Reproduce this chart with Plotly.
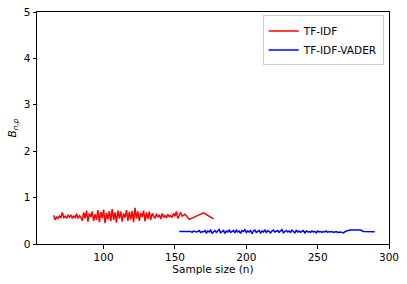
import plotly.graph_objects as go

# TF-IDF series
tfidf_x = list(range(65, 156)) + [157, 160, 170, 177]
tfidf_y = [
    0.62, 0.52, 0.58, 0.55, 0.60, 0.56, 0.68, 0.57, 0.60, 0.55,
    0.62, 0.58, 0.63, 0.56, 0.60, 0.57, 0.65, 0.55, 0.61, 0.58,
    0.50, 0.68, 0.55, 0.72, 0.48, 0.66, 0.58, 0.70, 0.50, 0.64,
    0.52, 0.73, 0.47, 0.69, 0.56, 0.74, 0.45, 0.67, 0.53, 0.71,
    0.49, 0.75, 0.52, 0.68, 0.46, 0.72, 0.55, 0.70, 0.48, 0.66,
    0.57, 0.73, 0.50, 0.69, 0.53, 0.71, 0.47, 0.78, 0.55, 0.70,
    0.50, 0.67, 0.58, 0.72, 0.49, 0.68, 0.54, 0.70, 0.52, 0.66,
    0.60, 0.55, 0.65, 0.58, 0.63, 0.54, 0.66, 0.57, 0.62, 0.56,
    0.64, 0.59, 0.61, 0.57, 0.66, 0.60, 0.70, 0.55, 0.62, 0.68,
    0.60,
    0.64, 0.53, 0.67, 0.54,
]

# TF-IDF-VADER series
vader_x = list(range(153, 271)) + [273, 280, 282, 290]
vader_y = [
    0.27, 0.27, 0.26, 0.27, 0.27, 0.27, 0.26, 0.27, 0.27, 0.25,
    0.28, 0.27, 0.26, 0.27, 0.29, 0.25, 0.27, 0.26,
    0.29, 0.24, 0.28, 0.26, 0.30, 0.23, 0.27, 0.29, 0.25, 0.28,
    0.31, 0.24, 0.27, 0.29, 0.23, 0.28, 0.26, 0.30, 0.25, 0.27,
    0.29, 0.24, 0.30, 0.26, 0.28, 0.23, 0.29, 0.27, 0.31, 0.25,
    0.28, 0.26, 0.29, 0.22, 0.28, 0.30, 0.25, 0.27, 0.29, 0.24,
    0.28, 0.26, 0.30, 0.25, 0.29, 0.27, 0.24, 0.28, 0.30, 0.26,
    0.27, 0.29, 0.25, 0.28, 0.31, 0.24, 0.27, 0.29, 0.26, 0.28,
    0.25, 0.30, 0.27, 0.24, 0.29, 0.26, 0.28, 0.25, 0.27, 0.29,
    0.24, 0.28, 0.26, 0.27, 0.25, 0.28, 0.26, 0.27, 0.24, 0.28,
    0.26, 0.27, 0.25, 0.27, 0.26, 0.28, 0.25, 0.27, 0.26, 0.27,
    0.25, 0.26, 0.27, 0.25, 0.26,
    0.26, 0.25, 0.24, 0.26, 0.28,
    0.30, 0.30, 0.27, 0.265,
]

x_ticks = [100, 150, 200, 250, 300]
y_ticks = [0, 1, 2, 3, 4, 5]

fig = go.Figure()
fig.add_trace(go.Scatter(x=tfidf_x, y=tfidf_y, mode="lines", name="TF-IDF",
                         line=dict(color="red", width=1.5)))
fig.add_trace(go.Scatter(x=vader_x, y=vader_y, mode="lines", name="TF-IDF-VADER",
                         line=dict(color="blue", width=1.5)))

axis_common = dict(showgrid=False, zeroline=False, showline=True, linecolor="black",
                   linewidth=1, mirror=True, ticks="outside", ticklen=3.5,
                   tickcolor="black", tickfont=dict(size=10.5, color="black"),
                   automargin=False)

fig.update_layout(
    width=407, height=284,
    margin=dict(l=37, r=18, t=12, b=40),
    paper_bgcolor="white", plot_bgcolor="white",
    font=dict(family="DejaVu Sans", size=10.5, color="black"),
    xaxis=dict(range=[53.3, 300], tickvals=x_ticks,
               title=dict(text="Sample size (n)", font=dict(size=10.5), standoff=3),
               **axis_common),
    yaxis=dict(range=[0, 5], tickvals=y_ticks,
               title=dict(text="<i>B</i><sub><i>n,p</i></sub>", font=dict(size=10.5), standoff=5),
               **axis_common),
    legend=dict(x=0.985, y=0.985, xanchor="right", yanchor="top",
                bordercolor="#cccccc", borderwidth=1, bgcolor="rgba(255,255,255,0.8)",
                font=dict(size=10.5), tracegroupgap=0, itemwidth=30),
    showlegend=True,
)

fig.write_html("out.html", config={"displayModeBar": False},
               post_script="document.body.style.margin='0px';")
